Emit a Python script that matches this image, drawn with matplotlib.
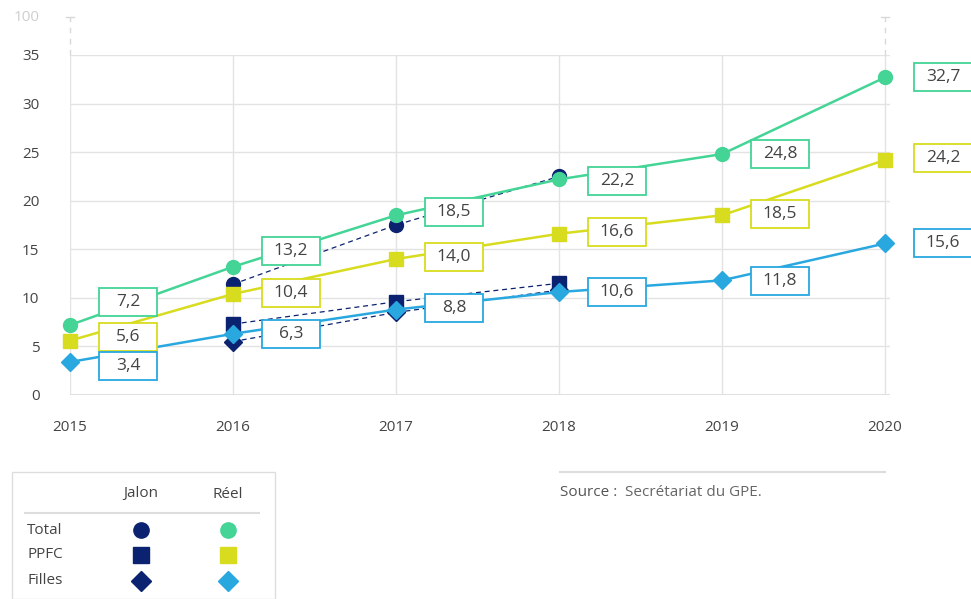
import matplotlib.pyplot as plt
from matplotlib.patches import Rectangle
from matplotlib.lines import Line2D

plt.rcParams['font.family'] = ['Open Sans', 'DejaVu Sans']

annees = [2015, 2016, 2017, 2018, 2019, 2020]
total_reel = [7.2, 13.2, 18.5, 22.2, 24.8, 32.7]
ppfc_reel = [5.6, 10.4, 14.0, 16.6, 18.5, 24.2]
filles_reel = [3.4, 6.3, 8.8, 10.6, 11.8, 15.6]

annees_jalon = [2016, 2017, 2018]
total_jalon = [11.4, 17.5, 22.5]
ppfc_jalon = [7.3, 9.6, 11.5]
filles_jalon = [5.5, 8.5, 10.8]

# couleurs
vert = '#43d496'
jaune = '#d8dc1f'
bleu = '#29a8e0'
marine = '#0b2270'
gris_txt = '#444444'

fig = plt.figure(figsize=(9.71, 5.99), dpi=100)
larg_ax = 820
ax = fig.add_axes([70/971, (599-395)/599, larg_ax/971, 340/599])

x_max = 2020.03
ax.set_xlim(2015, x_max)
ax.set_ylim(0, 35)
ax.set_yticks(range(0, 36, 5))
ax.set_xticks(annees)
ax.grid(True, color='#e3e3e3', linewidth=1)
ax.set_axisbelow(True)
for s in ax.spines.values():
    s.set_visible(False)
ax.axhline(0, color='#dcdcdc', linewidth=1.2, zorder=1)
ax.tick_params(length=0, labelsize=11, labelcolor=gris_txt)
ax.tick_params(axis='y', pad=22)
ax.tick_params(axis='x', pad=18)

# pixels -> unités de données
px_x = (x_max - 2015) / larg_ax
px_y = 35 / 340

# coupure d'axe en haut
for xb in (2015, 2020):
    ax.plot([xb, xb], [35, 38.9], color='#d8d8d8', linestyle=(0, (4, 4)),
            linewidth=1, clip_on=False)
    ax.plot([xb - 4*px_x, xb + 4*px_x], [38.9, 38.9], color='#d8d8d8',
            linewidth=1, clip_on=False)
ax.text(2015 - 30*px_x, 38.9, '100', ha='right', va='center',
        fontsize=11, color='#cfcfcf', clip_on=False)

# jalons
ax.plot(annees_jalon, total_jalon, color=marine, linestyle=(0, (4, 3)),
        linewidth=0.9, marker='o', markersize=10, zorder=3)
ax.plot(annees_jalon, ppfc_jalon, color=marine, linestyle=(0, (4, 3)),
        linewidth=0.9, marker='s', markersize=10, zorder=3)
ax.plot(annees_jalon, filles_jalon, color=marine, linestyle=(0, (4, 3)),
        linewidth=0.9, marker='D', markersize=9, zorder=3)

# réel
ax.plot(annees, total_reel, color=vert, linewidth=1.8, marker='o',
        markersize=10, zorder=4, clip_on=False)
ax.plot(annees, ppfc_reel, color=jaune, linewidth=1.8, marker='s',
        markersize=10, zorder=4, clip_on=False)
ax.plot(annees, filles_reel, color=bleu, linewidth=1.8, marker='D',
        markersize=9, zorder=4, clip_on=False)

decal_total = [23, 16, 3, -2, 0, 0]
decal_ppfc = [4, 1, 2, 2, 1, 2]
decal_filles = [-4, 0, 2, 0, -1, 0]


def etiquettes(valeurs, couleur, decal):
    for x, v, d in zip(annees, valeurs, decal):
        cx = x + 58 * px_x
        cy = v + d * px_y
        ax.add_patch(Rectangle((cx - 29*px_x, cy - 14*px_y), 58*px_x, 28*px_y,
                               fc='white', ec=couleur, lw=1.3, zorder=6,
                               clip_on=False))
        ax.text(cx, cy, f'{v:.1f}'.replace('.', ','), ha='center', va='center',
                fontsize=12.5, color=gris_txt, zorder=7, clip_on=False)


etiquettes(total_reel, vert, decal_total)
etiquettes(ppfc_reel, jaune, decal_ppfc)
etiquettes(filles_reel, bleu, decal_filles)

# légende en tableau
def px(x, y):
    return x / 971, 1 - y / 599

fig.patches.append(Rectangle(px(12, 599), 263/971, 127/599, transform=fig.transFigure,
                             fill=False, ec='#dddddd', lw=1))
fig.lines.append(Line2D([25/971, 259/971], [1 - 513/599] * 2,
                        transform=fig.transFigure, color='#dddddd', lw=1.5))
fig.text(*px(141, 494), 'Jalon', ha='center', va='center', fontsize=11, color=gris_txt)
fig.text(*px(228, 494), 'Réel', ha='center', va='center', fontsize=11, color=gris_txt)
lignes = ['Total', 'PPFC', 'Filles']
marq = ['o', 's', 'D']
couls = [vert, jaune, bleu]
tailles = [11, 11, 10]
for i, (nom, m, c, t) in enumerate(zip(lignes, marq, couls, tailles)):
    y = [530, 555, 581][i]
    fig.text(*px(27, y), nom, ha='left', va='center', fontsize=11, color=gris_txt)
    fig.lines.append(Line2D([141/971], [1 - y/599], marker=m, markersize=t,
                            color=marine, transform=fig.transFigure, lw=0))
    fig.lines.append(Line2D([228/971], [1 - y/599], marker=m, markersize=t,
                            color=c, transform=fig.transFigure, lw=0))

# source
fig.lines.append(Line2D([560/971, 885/971], [1 - 472/599] * 2,
                        transform=fig.transFigure, color='#dddddd', lw=1.5))
fig.text(*px(560, 493), 'Source :', ha='left', va='center', fontsize=11,
         color='#555555', fontweight='medium')
fig.text(*px(625, 493), 'Secrétariat du GPE.', ha='left', va='center',
         fontsize=11, color='#666666')

fig.savefig('out.png', dpi=100)
